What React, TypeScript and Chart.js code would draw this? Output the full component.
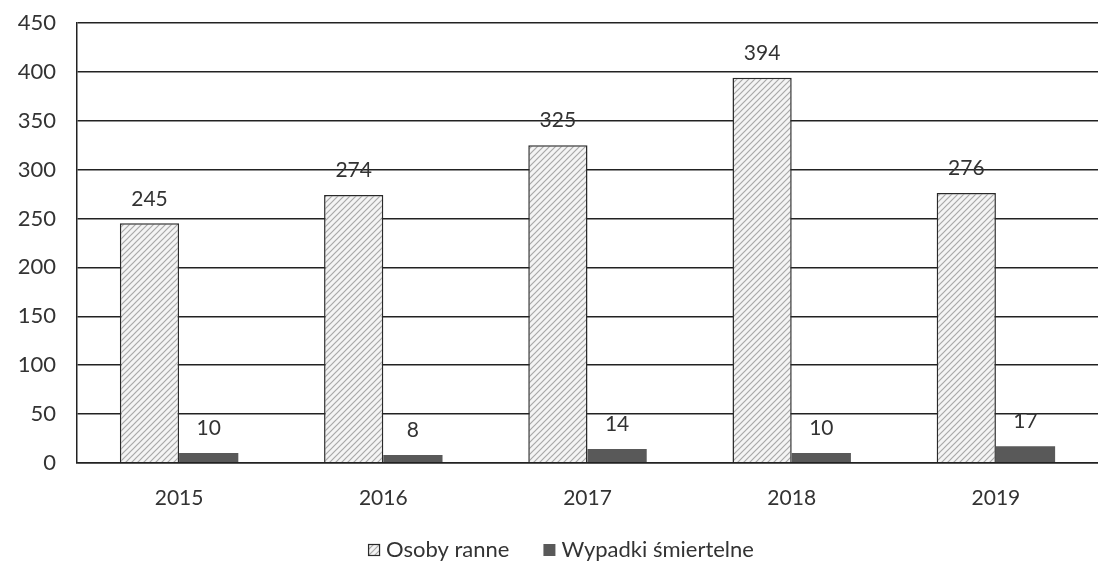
import React, { useEffect, useRef } from "react";
import { Chart, registerables } from "chart.js";

Chart.register(...registerables);

const years = ["2015", "2016", "2017", "2018", "2019"];
const injured = [245, 274, 325, 394, 276];
const fatal = [10, 8, 14, 10, 17];
const seriesNames = ["Osoby ranne", "Wypadki śmiertelne"];
const yTicks = [0, 50, 100, 150, 200, 250, 300, 350, 400, 450];

function makeHatch(): CanvasPattern | string {
  const c = document.createElement("canvas");
  c.width = 6;
  c.height = 6;
  const ctx = c.getContext("2d");
  if (!ctx) return "#ddd";
  ctx.fillStyle = "#f4f4f4";
  ctx.fillRect(0, 0, 6, 6);
  ctx.strokeStyle = "#a8a8a8";
  ctx.lineWidth = 1.2;
  ctx.beginPath();
  ctx.moveTo(0, 6);
  ctx.lineTo(6, 0);
  ctx.moveTo(-3, 3);
  ctx.lineTo(3, -3);
  ctx.moveTo(3, 9);
  ctx.lineTo(9, 3);
  ctx.stroke();
  const p = ctx.createPattern(c, "repeat");
  return p || "#ddd";
}

const valueLabels = {
  id: "valueLabels",
  afterDatasetsDraw(chart: any) {
    const ctx = chart.ctx;
    ctx.save();
    ctx.font = "21px Lato";
    ctx.fillStyle = "#333";
    ctx.textAlign = "center";
    ctx.textBaseline = "bottom";
    chart.data.datasets.forEach((ds: any, i: number) => {
      const meta = chart.getDatasetMeta(i);
      meta.data.forEach((bar: any, j: number) => {
        ctx.fillText(String(ds.data[j]), bar.x, bar.y - 14);
      });
    });
    ctx.restore();
  },
};

const bottomLegend = {
  id: "bottomLegend",
  afterDraw(chart: any) {
    const ctx = chart.ctx;
    ctx.save();
    ctx.font = "22px Lato";
    ctx.textBaseline = "middle";
    ctx.textAlign = "left";
    const box = 12;
    const gap = 6;
    const itemGap = 34;
    const items = chart.data.datasets.map((ds: any) => ({
      text: ds.label,
      w: ctx.measureText(ds.label).width,
      bg: ds.backgroundColor,
      border: ds.borderWidth ? ds.borderColor : null,
    }));
    const total =
      items.reduce((s: number, it: any) => s + box + gap + it.w, 0) + itemGap * (items.length - 1);
    let x = chart.width / 2 + 12 - total / 2;
    const y = chart.height - 14;
    items.forEach((it: any) => {
      ctx.fillStyle = it.bg;
      ctx.fillRect(x, y - box / 2, box, box);
      if (it.border) {
        ctx.strokeStyle = it.border;
        ctx.lineWidth = 1.2;
        ctx.strokeRect(x + 0.5, y - box / 2 + 0.5, box - 1, box - 1);
      }
      x += box + gap;
      ctx.fillStyle = "#333";
      ctx.fillText(it.text, x, y);
      x += it.w + itemGap;
    });
    ctx.restore();
  },
};

export default function App() {
  const ref = useRef<HTMLCanvasElement>(null);
  useEffect(() => {
    if (!ref.current) return;
    const hatch = makeHatch();
    const chart = new Chart(ref.current, {
      type: "bar",
      data: {
        labels: years,
        datasets: [
          {
            label: seriesNames[0],
            data: injured,
            backgroundColor: hatch as any,
            borderColor: "#2a2a2a",
            borderWidth: 1.5,
            borderSkipped: "bottom",
            categoryPercentage: 0.58,
            barPercentage: 1,
          },
          {
            label: seriesNames[1],
            data: fatal,
            backgroundColor: "#595959",
            borderWidth: 0,
            categoryPercentage: 0.58,
            barPercentage: 1,
          },
        ],
      },
      options: {
        responsive: false,
        animation: false,
        layout: { padding: { top: 0, right: 0, left: 0, bottom: 38 } },
        plugins: {
          legend: { display: false },
          tooltip: { enabled: false },
        },
        scales: {
          x: {
            grid: { display: false },
            border: { display: true, color: "#222", width: 1.5 },
            ticks: {
              font: { family: "Lato", size: 21 },
              color: "#333",
              padding: 15,
            },
          },
          y: {
            min: 0,
            max: 450,
            afterBuildTicks(scale: any) {
              scale.ticks = yTicks.map((v) => ({ value: v }));
            },
            afterFit(scale: any) {
              scale.width = 77;
              scale.paddingTop = 23;
            },
            grid: { color: "#222", lineWidth: 1.4, drawTicks: false },
            border: { display: true, color: "#222", width: 1.5 },
            ticks: {
              font: { family: "Lato", size: 22 },
              color: "#333",
              padding: 21,
            },
          },
        },
      },
      plugins: [valueLabels, bottomLegend],
    });
    return () => chart.destroy();
  }, []);
  return (
    <div style={{ position: "fixed", left: 0, top: 0, width: 1098, height: 564, background: "#fff" }}>
      <canvas ref={ref} width={1098} height={564} />
    </div>
  );
}
